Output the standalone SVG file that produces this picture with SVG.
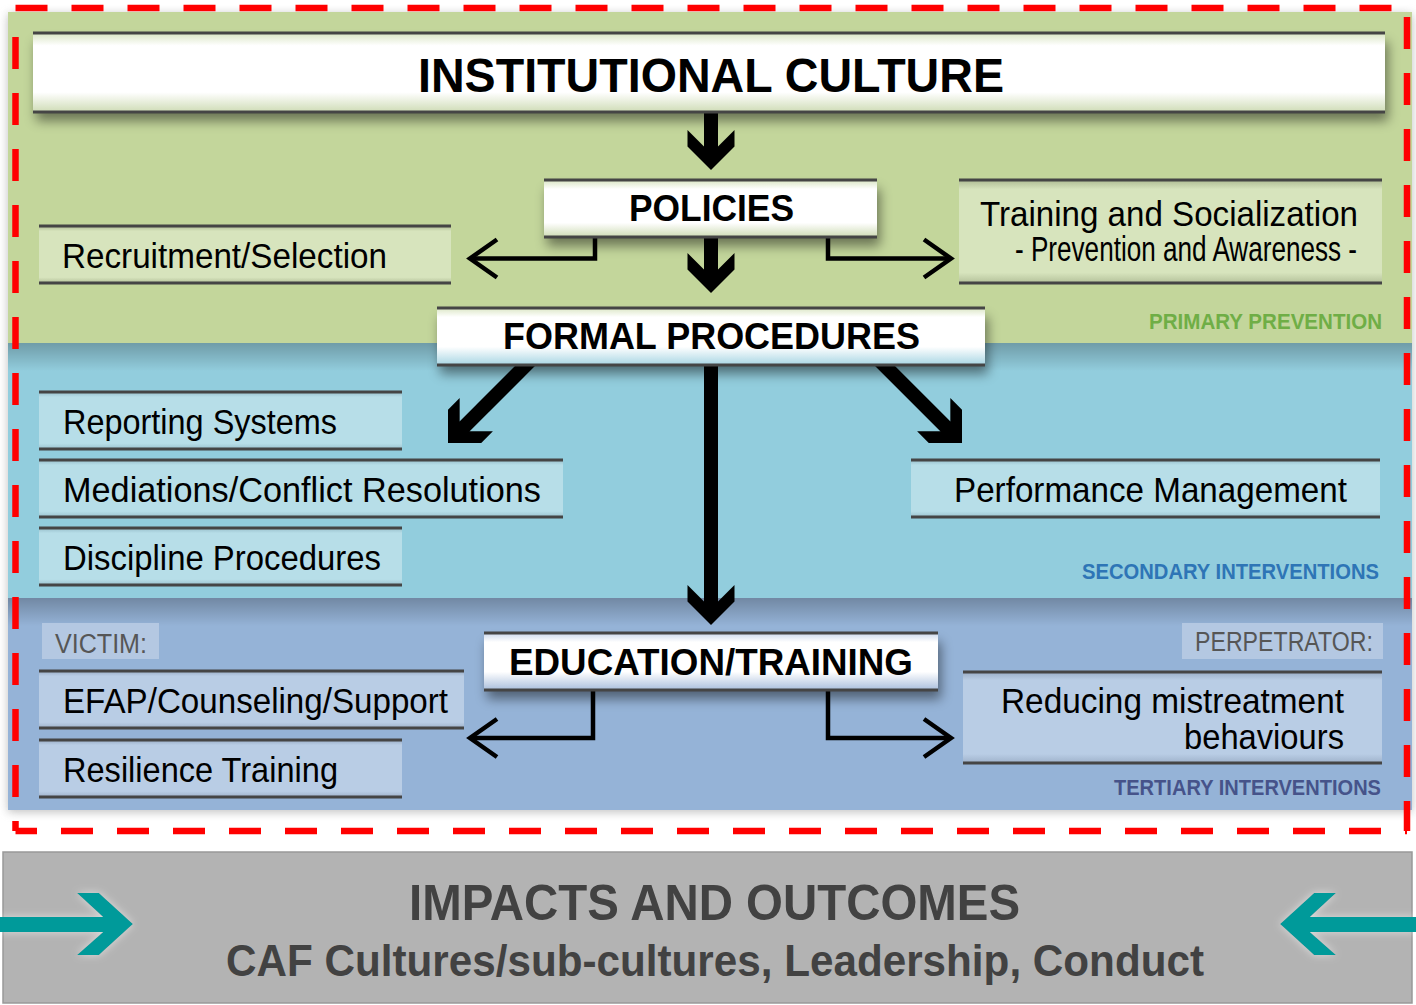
<svg xmlns="http://www.w3.org/2000/svg" width="1416" height="1005" viewBox="0 0 1416 1005">
  <defs>
    <style>
      text { font-family: "Liberation Sans", Arial, sans-serif; }
      .lbl { font-size: 35px; fill: #000; }
      .hdr { font-size: 36px; font-weight: bold; fill: #000; }
      .tag { font-size: 22px; font-weight: bold; }
      .who { font-size: 27px; fill: #565656; }
      .out { font-weight: bold; fill: #424242; }
      .rule { stroke: #454545; stroke-width: 3; }
      .thick { stroke: #000; stroke-width: 14; fill: none; }
      .thin { stroke: #000; stroke-width: 4.5; fill: none; stroke-linejoin: miter; }
      .chev { fill: #000; }
      .red { stroke: #ff0000; stroke-width: 6.5; stroke-dasharray: 32 24; fill: none; }
      .teal { fill: #009a9a; }
    </style>

    <!-- category box fills: flat colour with darker bands under the rules -->
    <linearGradient id="gGreen" x1="0" y1="0" x2="0" y2="1">
      <stop offset="0" stop-color="#aebb93"/>
      <stop offset="0.09" stop-color="#d7e4bd"/>
      <stop offset="0.9" stop-color="#d7e4bd"/>
      <stop offset="1" stop-color="#b4c19a"/>
    </linearGradient>
    <linearGradient id="gBlue" x1="0" y1="0" x2="0" y2="1">
      <stop offset="0" stop-color="#98bfcb"/>
      <stop offset="0.09" stop-color="#b7dee8"/>
      <stop offset="0.9" stop-color="#b7dee8"/>
      <stop offset="1" stop-color="#9cc3cf"/>
    </linearGradient>
    <linearGradient id="gTert" x1="0" y1="0" x2="0" y2="1">
      <stop offset="0" stop-color="#9aadc6"/>
      <stop offset="0.09" stop-color="#b9cde5"/>
      <stop offset="0.9" stop-color="#b9cde5"/>
      <stop offset="1" stop-color="#9fb2cb"/>
    </linearGradient>

    <!-- white heading boxes -->
    <linearGradient id="gWG" x1="0" y1="0" x2="0" y2="1">
      <stop offset="0" stop-color="#d9e5c3"/>
      <stop offset="0.16" stop-color="#ffffff"/>
      <stop offset="0.75" stop-color="#ffffff"/>
      <stop offset="1" stop-color="#cfdcb6"/>
    </linearGradient>
    <linearGradient id="gWGB" x1="0" y1="0" x2="0" y2="1">
      <stop offset="0" stop-color="#dce7c6"/>
      <stop offset="0.16" stop-color="#ffffff"/>
      <stop offset="0.68" stop-color="#ffffff"/>
      <stop offset="1" stop-color="#a9d6e4"/>
    </linearGradient>
    <linearGradient id="gWB" x1="0" y1="0" x2="0" y2="1">
      <stop offset="0" stop-color="#cbd8ec"/>
      <stop offset="0.16" stop-color="#ffffff"/>
      <stop offset="0.68" stop-color="#ffffff"/>
      <stop offset="1" stop-color="#aabfdc"/>
    </linearGradient>

    <!-- shade cast by one band onto the next -->
    <linearGradient id="shade" x1="0" y1="0" x2="0" y2="1">
      <stop offset="0" stop-color="#000" stop-opacity="0.24"/>
      <stop offset="1" stop-color="#000" stop-opacity="0"/>
    </linearGradient>

    <filter id="panelShadow" x="-3%" y="-3%" width="106%" height="108%">
      <feGaussianBlur stdDeviation="5"/>
    </filter>
    <filter id="drop" x="-5%" y="-30%" width="110%" height="190%">
      <feDropShadow dx="3" dy="9" stdDeviation="6" flood-color="#000" flood-opacity="0.45"/>
    </filter>
    <filter id="glow" x="-20%" y="-30%" width="140%" height="160%">
      <feGaussianBlur in="SourceAlpha" stdDeviation="4" result="b"/>
      <feFlood flood-color="#ffffff" flood-opacity="0.55"/>
      <feComposite in2="b" operator="in" result="halo"/>
      <feMerge>
        <feMergeNode in="halo"/>
        <feMergeNode in="SourceGraphic"/>
      </feMerge>
    </filter>

    <!-- thick chevron head, tip at origin, pointing down -->
    <path id="chev" d="M-7,-23.5 L-23.5,-40 L-23.5,-23.5 L0,0 L23.5,-23.5 L23.5,-40 L7,-23.5 Z"/>
  </defs>

  <rect x="0" y="0" width="1416" height="1005" fill="#ffffff"/>

  <!-- background bands -->
  <g id="bands">
    <rect x="8" y="14" width="1404" height="798" fill="#8a8a8a" opacity="0.55" filter="url(#panelShadow)"/>
    <rect x="8" y="12" width="1404" height="331" fill="#c3d69b"/>
    <rect x="8" y="343" width="1404" height="255" fill="#92cddd"/>
    <rect x="8" y="598" width="1404" height="212" fill="#95b3d7"/>
    <rect x="8" y="343" width="1404" height="28" fill="url(#shade)"/>
    <rect x="8" y="598" width="1404" height="28" fill="url(#shade)"/>
  </g>

  <!-- band titles -->
  <g id="band-titles">
    <text class="tag" x="1149" y="329" textLength="233" lengthAdjust="spacingAndGlyphs" fill="#6fae46">PRIMARY PREVENTION</text>
    <text class="tag" x="1082" y="579" textLength="297" lengthAdjust="spacingAndGlyphs" fill="#2e75b6">SECONDARY INTERVENTIONS</text>
    <text class="tag" x="1114" y="795" textLength="267" lengthAdjust="spacingAndGlyphs" fill="#46538a">TERTIARY INTERVENTIONS</text>
  </g>

  <!-- category boxes -->
  <g id="n-recruitment">
    <rect x="39" y="226" width="412" height="57" fill="url(#gGreen)"/>
    <line class="rule" x1="39" y1="226" x2="451" y2="226"/>
    <line class="rule" x1="39" y1="283" x2="451" y2="283"/>
    <text class="lbl" x="62" y="268" textLength="325" lengthAdjust="spacingAndGlyphs">Recruitment/Selection</text>
  </g>
  <g id="n-training-socialization">
    <rect x="959" y="180" width="423" height="103" fill="url(#gGreen)"/>
    <line class="rule" x1="959" y1="180" x2="1382" y2="180"/>
    <line class="rule" x1="959" y1="283" x2="1382" y2="283"/>
    <text class="lbl" x="980" y="226" font-size="34" textLength="378" lengthAdjust="spacingAndGlyphs">Training and Socialization</text>
    <text class="lbl" x="1015" y="261" font-size="26" textLength="342" lengthAdjust="spacingAndGlyphs">- Prevention and Awareness -</text>
  </g>
  <g id="n-reporting">
    <rect x="39" y="392" width="363" height="57" fill="url(#gBlue)"/>
    <line class="rule" x1="39" y1="392" x2="402" y2="392"/>
    <line class="rule" x1="39" y1="449" x2="402" y2="449"/>
    <text class="lbl" x="63" y="434" textLength="274" lengthAdjust="spacingAndGlyphs">Reporting Systems</text>
  </g>
  <g id="n-mediations">
    <rect x="39" y="460" width="524" height="57" fill="url(#gBlue)"/>
    <line class="rule" x1="39" y1="460" x2="563" y2="460"/>
    <line class="rule" x1="39" y1="517" x2="563" y2="517"/>
    <text class="lbl" x="63" y="502" textLength="478" lengthAdjust="spacingAndGlyphs">Mediations/Conflict Resolutions</text>
  </g>
  <g id="n-discipline">
    <rect x="39" y="528" width="363" height="57" fill="url(#gBlue)"/>
    <line class="rule" x1="39" y1="528" x2="402" y2="528"/>
    <line class="rule" x1="39" y1="585" x2="402" y2="585"/>
    <text class="lbl" x="63" y="570" textLength="318" lengthAdjust="spacingAndGlyphs">Discipline Procedures</text>
  </g>
  <g id="n-performance">
    <rect x="911" y="460" width="469" height="57" fill="url(#gBlue)"/>
    <line class="rule" x1="911" y1="460" x2="1380" y2="460"/>
    <line class="rule" x1="911" y1="517" x2="1380" y2="517"/>
    <text class="lbl" x="954" y="502" textLength="393" lengthAdjust="spacingAndGlyphs">Performance Management</text>
  </g>
  <g id="n-victim">
    <rect x="42" y="623" width="117" height="36" fill="#b4c8e2"/>
    <text class="who" x="55" y="653" textLength="92" lengthAdjust="spacingAndGlyphs">VICTIM:</text>
  </g>
  <g id="n-perpetrator">
    <rect x="1182" y="623" width="201" height="36" fill="#b4c8e2"/>
    <text class="who" x="1195" y="651" textLength="178" lengthAdjust="spacingAndGlyphs">PERPETRATOR:</text>
  </g>
  <g id="n-efap">
    <rect x="39" y="671" width="425" height="57" fill="url(#gTert)"/>
    <line class="rule" x1="39" y1="671" x2="464" y2="671"/>
    <line class="rule" x1="39" y1="728" x2="464" y2="728"/>
    <text class="lbl" x="63" y="713" textLength="385" lengthAdjust="spacingAndGlyphs">EFAP/Counseling/Support</text>
  </g>
  <g id="n-resilience">
    <rect x="39" y="740" width="363" height="57" fill="url(#gTert)"/>
    <line class="rule" x1="39" y1="740" x2="402" y2="740"/>
    <line class="rule" x1="39" y1="797" x2="402" y2="797"/>
    <text class="lbl" x="63" y="782" textLength="275" lengthAdjust="spacingAndGlyphs">Resilience Training</text>
  </g>
  <g id="n-reducing">
    <rect x="963" y="672" width="419" height="91" fill="url(#gTert)"/>
    <line class="rule" x1="963" y1="672" x2="1382" y2="672"/>
    <line class="rule" x1="963" y1="763" x2="1382" y2="763"/>
    <text class="lbl" x="1344" y="713" font-size="32" text-anchor="end" textLength="343" lengthAdjust="spacingAndGlyphs">Reducing mistreatment</text>
    <text class="lbl" x="1344" y="749" font-size="32" text-anchor="end" textLength="160" lengthAdjust="spacingAndGlyphs">behaviours</text>
  </g>

  <!-- connectors -->
  <g id="connectors">
    <!-- culture to policies -->
    <line class="thick" x1="711" y1="112" x2="711" y2="148"/>
    <use href="#chev" class="chev" transform="translate(711,170)"/>
    <!-- policies to formal procedures -->
    <line class="thick" x1="711" y1="236" x2="711" y2="271"/>
    <use href="#chev" class="chev" transform="translate(711,293)"/>
    <!-- policies side branches -->
    <path class="thin" d="M595,236 V258.5 H472"/>
    <polyline class="thin" points="497,239.5 470,258.5 497,277.5"/>
    <path class="thin" d="M828,236 V258.5 H949"/>
    <polyline class="thin" points="924,239.5 951,258.5 924,277.5"/>
    <!-- formal procedures fan-out -->
    <line class="thick" x1="532" y1="359" x2="464" y2="427"/>
    <use href="#chev" class="chev" transform="translate(448,443) rotate(45)"/>
    <line class="thick" x1="878" y1="359" x2="946" y2="427"/>
    <use href="#chev" class="chev" transform="translate(962,443) rotate(-45)"/>
    <line class="thick" x1="711" y1="364" x2="711" y2="603"/>
    <use href="#chev" class="chev" transform="translate(711,625)"/>
    <!-- education side branches -->
    <path class="thin" d="M593,689 V738 H472"/>
    <polyline class="thin" points="497,719 470,738 497,757"/>
    <path class="thin" d="M828,689 V738 H949"/>
    <polyline class="thin" points="924,719 951,738 924,757"/>
  </g>

  <!-- heading boxes -->
  <g id="n-institutional-culture">
    <rect x="33" y="33" width="1352" height="79" fill="url(#gWG)" filter="url(#drop)"/>
    <line class="rule" x1="33" y1="33" x2="1385" y2="33"/>
    <line class="rule" x1="33" y1="112" x2="1385" y2="112"/>
    <text x="418" y="92" font-size="48" font-weight="bold" fill="#000" textLength="586" lengthAdjust="spacingAndGlyphs">INSTITUTIONAL CULTURE</text>
  </g>
  <g id="n-policies">
    <rect x="544" y="180" width="333" height="57" fill="url(#gWG)" filter="url(#drop)"/>
    <line class="rule" x1="544" y1="180" x2="877" y2="180"/>
    <line class="rule" x1="544" y1="237" x2="877" y2="237"/>
    <text class="hdr" x="629" y="221" textLength="165" lengthAdjust="spacingAndGlyphs">POLICIES</text>
  </g>
  <g id="n-formal-procedures">
    <rect x="437" y="308" width="548" height="57" fill="url(#gWGB)" filter="url(#drop)"/>
    <line class="rule" x1="437" y1="308" x2="985" y2="308"/>
    <line class="rule" x1="437" y1="365" x2="985" y2="365"/>
    <text class="hdr" x="503" y="349" textLength="417" lengthAdjust="spacingAndGlyphs">FORMAL PROCEDURES</text>
  </g>
  <g id="n-education-training">
    <rect x="484" y="633" width="454" height="57" fill="url(#gWB)" filter="url(#drop)"/>
    <line class="rule" x1="484" y1="633" x2="938" y2="633"/>
    <line class="rule" x1="484" y1="690" x2="938" y2="690"/>
    <text class="hdr" x="509" y="675" textLength="404" lengthAdjust="spacingAndGlyphs">EDUCATION/TRAINING</text>
  </g>

  <!-- dashed boundary round the intervention bands -->
  <g id="boundary">
    <path class="red" d="M15.5,8 H1407"/>
    <path class="red" d="M15.5,37 V831"/>
    <path class="red" d="M1407,17 V831"/>
    <path class="red" d="M15.5,831 H1407" stroke-dashoffset="10.5"/>
  </g>

  <!-- outcomes bar -->
  <g id="n-impacts">
    <rect x="3" y="852" width="1409" height="151" fill="#b3b3b3" stroke="#999999" stroke-width="1.5"/>
    <text class="out" x="409" y="920" font-size="50" textLength="611" lengthAdjust="spacingAndGlyphs">IMPACTS AND OUTCOMES</text>
    <text class="out" x="226" y="976" font-size="44" textLength="978" lengthAdjust="spacingAndGlyphs">CAF Cultures/sub-cultures, Leadership, Conduct</text>
    <polygon class="teal" filter="url(#glow)" points="0,917 103,917 77,893 99,893 133,924 99,955 77,955 103,932 0,932"/>
    <polygon class="teal" filter="url(#glow)" points="1416,917 1310,917 1336,893 1314,893 1280,924 1314,955 1336,955 1310,932 1416,932"/>
  </g>
</svg>
